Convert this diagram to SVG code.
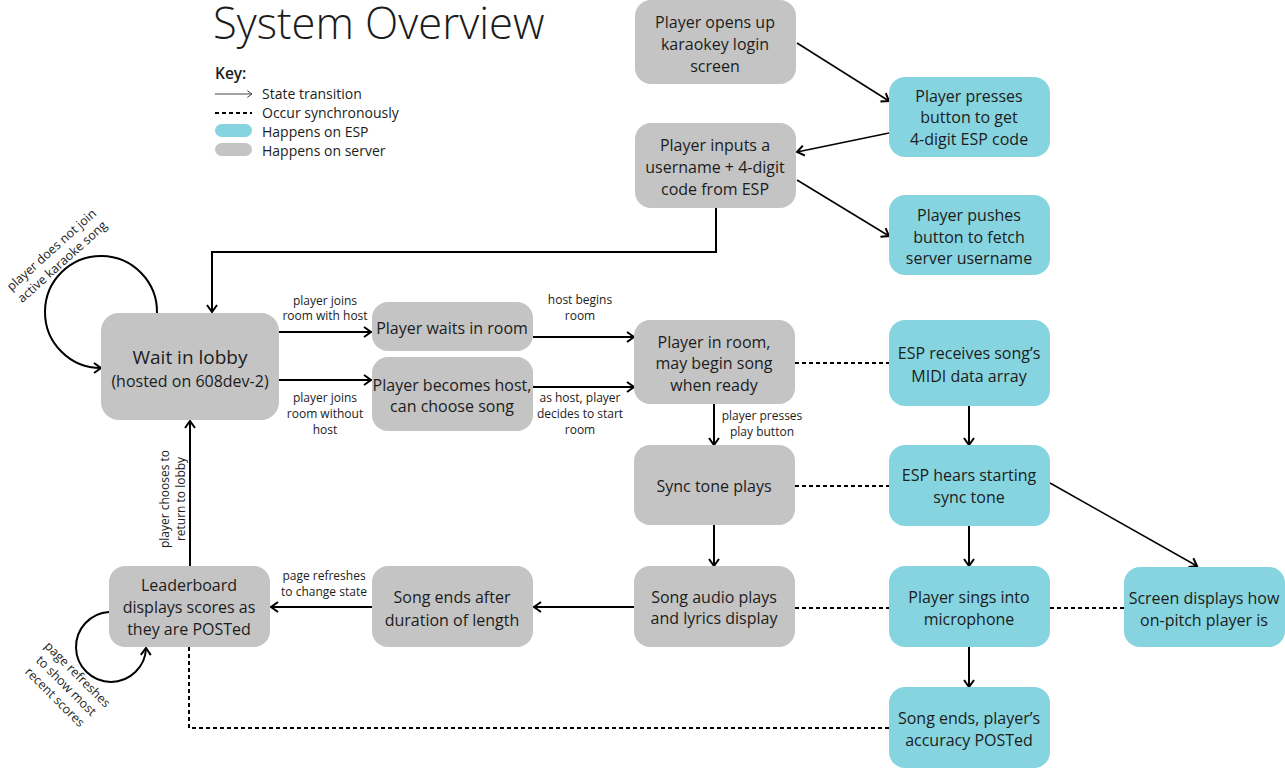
<svg xmlns="http://www.w3.org/2000/svg" width="1285" height="768" viewBox="0 0 1285 768">
<style>
text{font-family:"Open Sans","Noto Sans","Liberation Sans",sans-serif;fill:#1c1c1c}
.n{font-size:16px;text-anchor:middle}
.l{font-size:12px;text-anchor:middle}
.k{font-size:14px}
.srv{fill:#c4c4c4}
.esp{fill:#86d4e0}
.c{fill:none;stroke:#000;stroke-width:2;marker-end:url(#ah)}
.t{fill:none;stroke:#000;stroke-width:1.5;marker-end:url(#ah)}
.d{fill:none;stroke:#000;stroke-width:2;stroke-dasharray:4 3}
</style>
<defs>
<marker id="ah" viewBox="0 0 12 12" refX="10" refY="6" markerWidth="12" markerHeight="12" markerUnits="userSpaceOnUse" orient="auto">
<path d="M3,1 L10,6 L3,11" fill="none" stroke="#000" stroke-width="2"/>
</marker>
<marker id="ahs" viewBox="0 0 12 12" refX="10" refY="6" markerWidth="8" markerHeight="8" markerUnits="userSpaceOnUse" orient="auto">
<path d="M3,1 L10,6 L3,11" fill="none" stroke="#444" stroke-width="1.5"/>
</marker>
</defs>

<g id="title">
<text x="213" y="39" style="font-size:43.5px;font-weight:300">System Overview</text>
</g>
<g id="key">
<text x="215" y="79" style="font-size:15.5px;font-weight:600">Key:</text>
<line x1="215" y1="94" x2="252" y2="94" stroke="#444" stroke-width="1.2" marker-end="url(#ahs)"/>
<line x1="215" y1="113" x2="252" y2="113" stroke="#000" stroke-width="2" stroke-dasharray="4 3"/>
<rect x="215" y="124" width="37" height="13" rx="6.5" class="esp"/>
<rect x="215" y="143" width="37" height="13" rx="6.5" class="srv"/>
<text x="262" y="99" class="k">State transition</text>
<text x="262" y="118" class="k">Occur synchronously</text>
<text x="262" y="137" class="k">Happens on ESP</text>
<text x="262" y="156" class="k">Happens on server</text>
</g>

<g id="connectors">
<line x1="797" y1="43" x2="889" y2="101" class="t"/>
<line x1="889" y1="133" x2="797" y2="152" class="t"/>
<line x1="797" y1="180" x2="889" y2="236" class="t"/>
<polyline points="716,208 716,252 212,252 212,312" class="c"/>
<path d="M157,313 A56,56 0 1 0 101,368" class="c"/>
<line x1="279" y1="332" x2="371" y2="332" class="c"/>
<line x1="279" y1="380" x2="371" y2="380" class="c"/>
<line x1="533" y1="337" x2="634" y2="337" class="c"/>
<line x1="533" y1="387" x2="634" y2="387" class="c"/>
<line x1="714" y1="404" x2="714" y2="445" class="c"/>
<line x1="714" y1="525" x2="714" y2="566" class="c"/>
<line x1="969" y1="406" x2="969" y2="445" class="c"/>
<line x1="969" y1="526" x2="969" y2="566" class="c"/>
<line x1="969" y1="647" x2="969" y2="687" class="c"/>
<line x1="1050" y1="483" x2="1197" y2="566" class="t"/>
<line x1="634" y1="607" x2="534" y2="607" class="c"/>
<line x1="372" y1="607" x2="271" y2="607" class="c"/>
<line x1="190" y1="566" x2="190" y2="421" class="c"/>
<path d="M109,612 A35,35 0 1 0 146,648" class="c"/>
<line x1="795" y1="363" x2="889" y2="363" class="d"/>
<line x1="795" y1="486" x2="889" y2="486" class="d"/>
<line x1="795" y1="608" x2="889" y2="608" class="d"/>
<line x1="1050" y1="608" x2="1124" y2="608" class="d"/>
<polyline points="189,647 189,728 889,728" class="d"/>
<text transform="translate(57,256) rotate(-42)" class="l" style="font-size:12.5px"><tspan x="0" y="-4">player does not join</tspan><tspan x="0" y="12">active karaoke song</tspan></text>
<text class="l"><tspan x="325" y="305">player joins</tspan><tspan x="325" y="320">room with host</tspan></text>
<text class="l"><tspan x="325" y="402">player joins</tspan><tspan x="325" y="418">room without</tspan><tspan x="325" y="434">host</tspan></text>
<text class="l"><tspan x="580" y="304">host begins</tspan><tspan x="580" y="320">room</tspan></text>
<text class="l"><tspan x="580" y="402">as host, player</tspan><tspan x="580" y="418">decides to start</tspan><tspan x="580" y="434">room</tspan></text>
<text class="l"><tspan x="762" y="420">player presses</tspan><tspan x="762" y="436">play button</tspan></text>
<text class="l"><tspan x="324" y="580">page refreshes</tspan><tspan x="324" y="596">to change state</tspan></text>
<text transform="translate(172,499) rotate(-90)" class="l"><tspan x="0" y="-3">player chooses to</tspan><tspan x="0" y="13">return to lobby</tspan></text>
<text transform="translate(66,686) rotate(45)" class="l" style="font-size:12.5px"><tspan x="0" y="-12">page refreshes</tspan><tspan x="0" y="4">to show most</tspan><tspan x="0" y="20">recent scores</tspan></text>
</g>

<g id="n-login"><rect x="635" y="0" width="161" height="84" rx="16" class="srv"/><text class="n"><tspan x="715" y="27.5">Player opens up</tspan><tspan x="715" y="49.5">karaokey login</tspan><tspan x="715" y="71.5">screen</tspan></text></g>
<g id="n-inputs"><rect x="635" y="123" width="161" height="85" rx="16" class="srv"/><text class="n"><tspan x="715" y="150.5">Player inputs a</tspan><tspan x="715" y="172.5">username + 4-digit</tspan><tspan x="715" y="194.5">code from ESP</tspan></text></g>
<g id="n-presses"><rect x="889" y="77" width="161" height="80" rx="16" class="esp"/><text class="n"><tspan x="969" y="101.5">Player presses</tspan><tspan x="969" y="122.5">button to get</tspan><tspan x="969" y="144.5">4-digit ESP code</tspan></text></g>
<g id="n-pushes"><rect x="889" y="195" width="161" height="80" rx="16" class="esp"/><text class="n"><tspan x="969" y="220.5">Player pushes</tspan><tspan x="969" y="242.5">button to fetch</tspan><tspan x="969" y="263.5">server username</tspan></text></g>
<g id="n-lobby"><rect x="101" y="313" width="178" height="107" rx="18" class="srv"/><text class="n"><tspan x="190" y="364" style="font-size:19px">Wait in lobby</tspan><tspan x="190" y="387">(hosted on 608dev-2)</tspan></text></g>
<g id="n-waits"><rect x="372" y="302" width="161" height="49" rx="16" class="srv"/><text class="n"><tspan x="452" y="333.5">Player waits in room</tspan></text></g>
<g id="n-host"><rect x="372" y="357" width="161" height="74" rx="16" class="srv"/><text class="n"><tspan x="452" y="390.5">Player becomes host,</tspan><tspan x="452" y="411.5">can choose song</tspan></text></g>
<g id="n-inroom"><rect x="634" y="320" width="161" height="84" rx="16" class="srv"/><text class="n"><tspan x="714" y="347.5">Player in room,</tspan><tspan x="714" y="368.5">may begin song</tspan><tspan x="714" y="390.5">when ready</tspan></text></g>
<g id="n-midi"><rect x="889" y="320" width="161" height="86" rx="16" class="esp"/><text class="n"><tspan x="969" y="358.5">ESP receives song’s</tspan><tspan x="969" y="381.5">MIDI data array</tspan></text></g>
<g id="n-sync"><rect x="634" y="445" width="161" height="80" rx="16" class="srv"/><text class="n"><tspan x="714" y="491.5">Sync tone plays</tspan></text></g>
<g id="n-hears"><rect x="889" y="445" width="161" height="81" rx="16" class="esp"/><text class="n"><tspan x="969" y="480.5">ESP hears starting</tspan><tspan x="969" y="502.5">sync tone</tspan></text></g>
<g id="n-audio"><rect x="634" y="566" width="161" height="81" rx="16" class="srv"/><text class="n"><tspan x="714" y="602.5">Song audio plays</tspan><tspan x="714" y="623.5">and lyrics display</tspan></text></g>
<g id="n-sings"><rect x="889" y="566" width="161" height="81" rx="16" class="esp"/><text class="n"><tspan x="969" y="602.5">Player sings into</tspan><tspan x="969" y="624.5">microphone</tspan></text></g>
<g id="n-screen"><rect x="1124" y="567" width="161" height="80" rx="16" class="esp"/><text class="n"><tspan x="1204" y="603.5">Screen displays how</tspan><tspan x="1204" y="625.5">on-pitch player is</tspan></text></g>
<g id="n-songends"><rect x="372" y="566" width="161" height="81" rx="16" class="srv"/><text class="n"><tspan x="452" y="602.5">Song ends after</tspan><tspan x="452" y="625.5">duration of length</tspan></text></g>
<g id="n-leader"><rect x="109" y="566" width="161" height="81" rx="16" class="srv"/><text class="n"><tspan x="189" y="590.5">Leaderboard</tspan><tspan x="189" y="612.5">displays scores as</tspan><tspan x="189" y="634.5">they are POSTed</tspan></text></g>
<g id="n-posted"><rect x="889" y="687" width="161" height="81" rx="16" class="esp"/><text class="n"><tspan x="969" y="723.5">Song ends, player’s</tspan><tspan x="969" y="745.5">accuracy POSTed</tspan></text></g>
</svg>
